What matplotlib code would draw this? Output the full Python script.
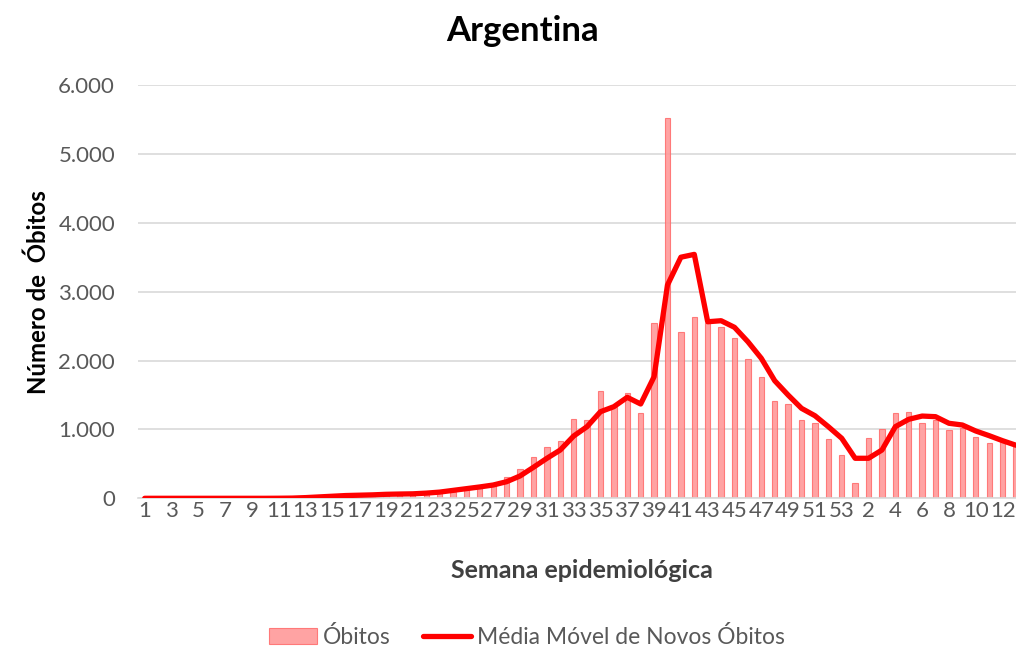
import matplotlib
matplotlib.use("Agg")
import matplotlib.pyplot as plt
from matplotlib.ticker import FuncFormatter, MultipleLocator
import numpy as np

# Week labels: 2020 weeks 1-53, then 2021 weeks 1-13
weeks = [str(w) for w in range(1, 54)] + [str(w) for w in range(1, 14)]

obitos = [0, 0, 0, 0, 0, 0, 0, 0, 0, 0,
          2, 5, 15, 25, 35, 40, 42, 45, 50, 55,
          60, 70, 85, 96, 130, 160, 180, 305, 430, 595,
          750, 825, 1145, 1140, 1562, 1330, 1533, 1243, 2540, 5523,
          2420, 2636, 2540, 2485, 2325, 2020, 1756, 1412, 1369, 1141,
          1097, 865, 628,
          226, 880, 1006, 1234, 1248, 1097, 1140, 985, 1020, 897, 798, 815, 780]

media_movel = [0, 0, 0, 0, 0, 0, 0, 0, 0, 0,
               1, 3, 10, 20, 30, 40, 45, 50, 58, 62,
               65, 75, 90, 115, 140, 165, 193, 241, 324, 450,
               580, 701, 904, 1040, 1257, 1330, 1466, 1369, 1765, 3096,
               3500, 3541, 2563, 2578, 2482, 2273, 2032, 1707, 1499, 1306,
               1199, 1040, 871,
               581, 581, 701, 1040, 1147, 1194, 1185, 1089, 1064, 977, 909, 836, 770]

plt.rcParams['font.family'] = ['Lato', 'DejaVu Sans']

W, H = 1016, 651
fig = plt.figure(figsize=(W / 100, H / 100), dpi=100)
left, right, bottom, top = 138, 1016, 498.3, 85
ax = fig.add_axes([left / W, 1 - bottom / H, (right - left) / W, (bottom - top) / H])

x = np.arange(len(weeks))
bars = ax.bar(x, obitos, width=0.4, color='#FF9999', edgecolor='#FF7070', linewidth=0.8,
              alpha=0.9, label='Óbitos', zorder=2)
line, = ax.plot(x, media_movel, color='#FF0000', linewidth=3.8, solid_capstyle='round',
                solid_joinstyle='round', label='Média Móvel de Novos Óbitos', zorder=3)

ax.set_xlim(-0.5, 65.0)
ax.set_ylim(0, 6000)
ax.yaxis.set_major_locator(MultipleLocator(1000))
ax.yaxis.set_major_formatter(FuncFormatter(lambda v, p: f"{int(v):,}".replace(',', '.')))
ax.set_xticks(x[::2])
ax.set_xticklabels(weeks[::2])
ax.grid(axis='y', color='#D9D9D9', linewidth=1.2, zorder=0)
ax.set_axisbelow(True)
for s in ['top', 'right', 'left']:
    ax.spines[s].set_visible(False)
ax.spines['bottom'].set_color('#D9D9D9')
ax.spines['bottom'].set_linewidth(1.2)
ax.tick_params(axis='both', length=0, labelsize=16, colors='#595959')
ax.tick_params(axis='x', pad=2)
ax.tick_params(axis='y', pad=16.5)

fig.text(522 / W, 1 - 31 / H, 'Argentina', ha='center', va='center',
         fontsize=25, fontweight='bold', color='black')
fig.text(582 / W, 1 - 570 / H, 'Semana epidemiológica', ha='center', va='center',
         fontsize=18, fontweight='bold', color='#404040')
fig.text(38 / W, 1 - 292 / H, 'Número de  Óbitos', ha='center', va='center',
         rotation=90, fontsize=17.3, fontweight='bold', color='black')

fig.legend([bars, line], ['Óbitos', 'Média Móvel de Novos Óbitos'], loc='center',
           bbox_to_anchor=(527 / W, 1 - 637 / H),
           ncol=2, frameon=False, fontsize=16.5, labelcolor='#595959',
           handlelength=2.1, handletextpad=0.25, columnspacing=1.4)

fig.savefig('out.png', dpi=100)
